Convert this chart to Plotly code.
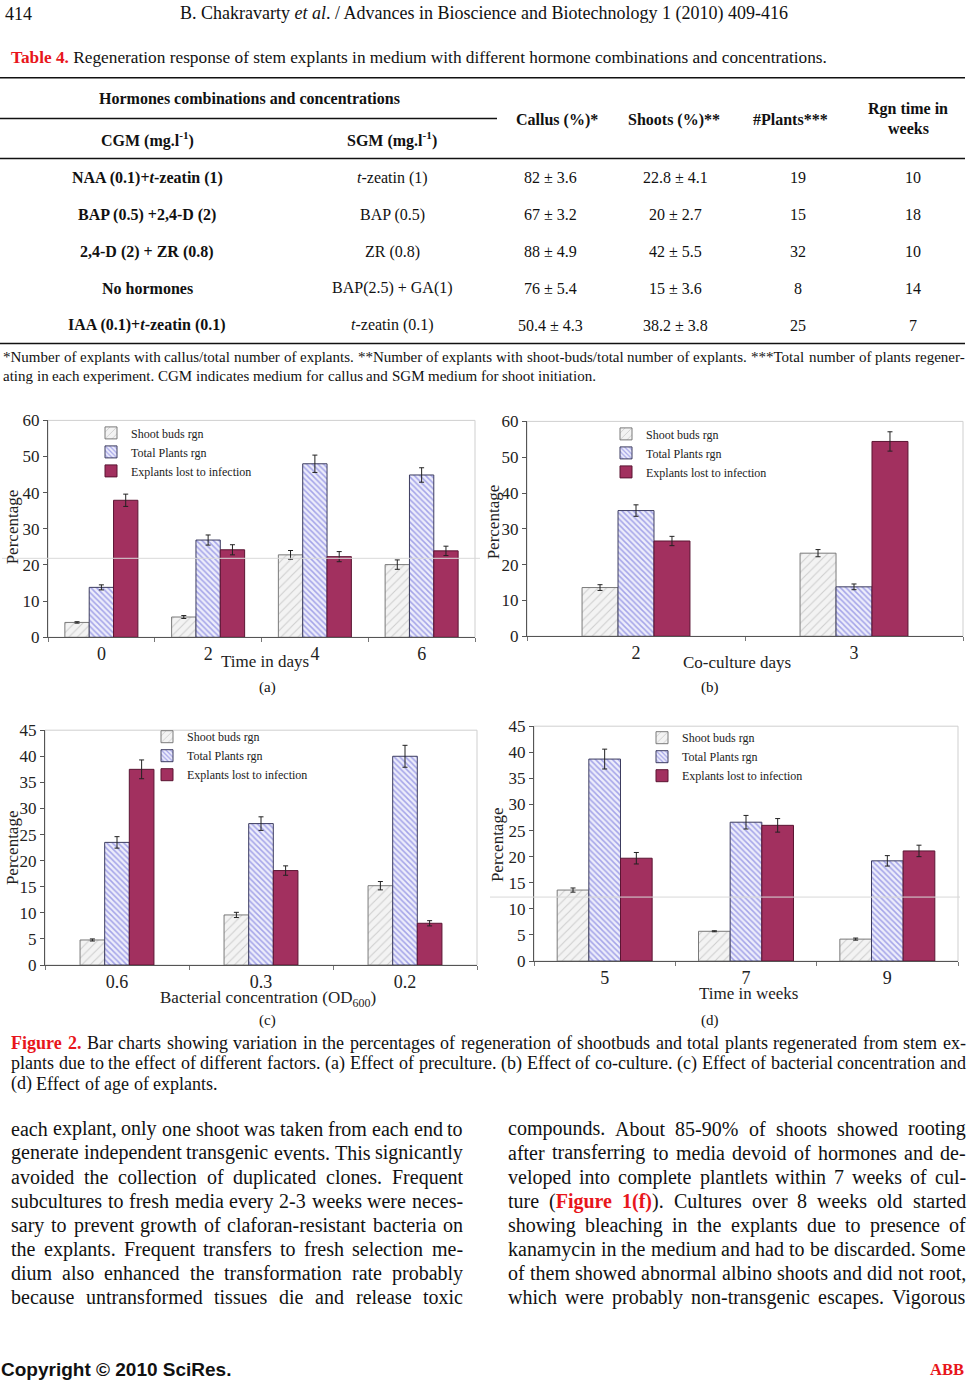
import re
import plotly.graph_objects as go

W, H = 968, 1386
SERIF = "Liberation Serif"
SANS = "Liberation Sans"
RED = "#e8161b"

# ---------------- data ----------------
series_names = ["Shoot buds rgn", "Total Plants rgn", "Explants lost to infection"]

categories_a = ["0", "2", "4", "6"]
shoot_a = [4.1, 5.6, 22.8, 20.1]
shoot_a_err = [0.2, 0.4, 1.2, 1.3]
total_a = [13.8, 26.9, 48.0, 44.9]
total_a_err = [0.7, 1.4, 2.4, 2.0]
infect_a = [37.9, 24.2, 22.3, 23.9]
infect_a_err = [1.7, 1.4, 1.4, 1.3]

categories_b = ["2", "3"]
shoot_b = [13.6, 23.2]
shoot_b_err = [0.8, 1.0]
total_b = [35.1, 13.8]
total_b_err = [1.6, 0.8]
infect_b = [26.6, 54.4]
infect_b_err = [1.3, 2.7]

categories_c = ["0.6", "0.3", "0.2"]
shoot_c = [4.8, 9.6, 15.2]
shoot_c_err = [0.2, 0.5, 0.8]
total_c = [23.5, 27.1, 40.0]
total_c_err = [1.1, 1.3, 2.1]
infect_c = [37.5, 18.1, 8.0]
infect_c_err = [1.8, 0.9, 0.5]

categories_d = ["5", "7", "9"]
shoot_d = [13.6, 5.7, 4.2]
shoot_d_err = [0.4, 0.1, 0.2]
total_d = [38.7, 26.6, 19.2]
total_d_err = [1.9, 1.3, 1.0]
infect_d = [19.7, 26.0, 21.1]
infect_d_err = [1.1, 1.3, 1.1]

y_max = [60, 60, 45, 45]
y_dtick = [10, 10, 5, 5]
x_titles = ["Time in days", "Co-culture days",
            "Bacterial concentration (OD<sub>600</sub>)", "Time in weeks"]
panel_labels = ["(a)", "(b)", "(c)", "(d)"]

# table data
tbl_cgm = ["NAA (0.1)+<i>t</i>-zeatin (1)", "BAP (0.5) +2,4-D (2)", "2,4-D (2) + ZR (0.8)",
           "No hormones", "IAA (0.1)+<i>t</i>-zeatin (0.1)"]
tbl_sgm = ["<i>t</i>-zeatin (1)", "BAP (0.5)", "ZR (0.8)", "BAP(2.5) + GA(1)", "<i>t</i>-zeatin (0.1)"]
tbl_callus = ["82 ± 3.6", "67 ± 3.2", "88 ± 4.9", "76 ± 5.4", "50.4 ± 4.3"]
tbl_shoots = ["22.8 ± 4.1", "20 ± 2.7", "42 ± 5.5", "15 ± 3.6", "38.2 ± 3.8"]
tbl_plants = ["19", "15", "32", "8", "25"]
tbl_rgn = ["10", "18", "10", "14", "7"]

# {...} marks red bold words
footnote_lines = [
    "*Number of explants with callus/total number of explants. **Number of explants with shoot-buds/total "
    "number of explants. ***Total number of plants regener-",
    "ating in each experiment. CGM indicates medium for callus and SGM medium for shoot initiation.",
]
caption_lines = [
    "{Figure} {2.} Bar charts showing variation in the percentages of regeneration of shootbuds and total "
    "plants regenerated from stem ex-",
    "plants due to the effect of different factors. (a) Effect of preculture. (b) Effect of co-culture. "
    "(c) Effect of bacterial concentration and",
    "(d) Effect of age of explants.",
]
body_left = [
    "each explant, only one shoot was taken from each end to",
    "generate independent transgenic events. This signicantly",
    "avoided the collection of duplicated clones. Frequent",
    "subcultures to fresh media every 2-3 weeks were neces-",
    "sary to prevent growth of claforan-resistant bacteria on",
    "the explants. Frequent transfers to fresh selection me-",
    "dium also enhanced the transformation rate probably",
    "because untransformed tissues die and release toxic",
]
body_right = [
    "compounds. About 85-90% of shoots showed rooting",
    "after transferring to media devoid of hormones and de-",
    "veloped into complete plantlets within 7 weeks of cul-",
    "ture ({Figure} {1(f)}). Cultures over 8 weeks old started",
    "showing bleaching in the explants due to presence of",
    "kanamycin in the medium and had to be discarded. Some",
    "of them showed abnormal albino shoots and did not root,",
    "which were probably non-transgenic escapes. Vigorous",
]

# ---------------- font metrics (Times-compatible) ----------------
REG = dict(zip(" !\"#$%&'()*+,-./0123456789:;<=>?@",
               [250, 333, 408, 500, 500, 833, 778, 333, 333, 333, 500, 564, 250, 333, 250, 278]
               + [500] * 10 + [278, 278, 564, 564, 564, 444, 921]))
REG.update(dict(zip("ABCDEFGHIJKLMNOPQRSTUVWXYZ",
                    [722, 667, 667, 722, 611, 556, 722, 722, 333, 389, 722, 611, 889, 722, 722, 556,
                     722, 667, 556, 611, 722, 722, 944, 722, 722, 611])))
REG.update(dict(zip("abcdefghijklmnopqrstuvwxyz",
                    [444, 500, 444, 500, 444, 333, 500, 500, 278, 278, 500, 278, 778, 500, 500, 500,
                     500, 333, 389, 278, 500, 500, 722, 500, 500, 444])))
BOLD = dict(zip("abcdefghijklmnopqrstuvwxyz",
                [500, 556, 444, 556, 444, 333, 500, 556, 278, 333, 556, 278, 833, 556, 500, 556,
                 556, 444, 389, 333, 556, 500, 722, 500, 500, 444]))
BOLD.update(dict(zip("FT ().0123456789", [611, 667, 250, 333, 333, 250] + [500] * 10)))


def markup(word):
    return re.sub(r"\{([^}]*)\}", r"<span style='color:#e8161b'><b>\1</b></span>", word)


def text_width(s, size):
    total, bold = 0, False
    for part in re.split(r"(<[^>]+>)", s):
        if part.startswith("<"):
            if part.lower() == "<b>":
                bold = True
            elif part.lower() == "</b>":
                bold = False
            continue
        for c in part:
            total += (BOLD.get(c, REG.get(c, 500) * 1.04) if bold else REG.get(c, 500))
    return total / 1000.0 * size


# ---------------- helpers ----------------
# page layout coordinates (pixels from top-left); slight vertical stretch about the middle
def px(x):
    return x / W


def py(y):
    yy = 638 + (y - 638) * 1.0132
    return 1 - yy / H


annotations = []
shapes = []


def text(t, x, y, size, anchor="left", family=SERIF, color="#111", angle=0):
    annotations.append(dict(text=t, x=px(x), y=py(y), xref="paper", yref="paper",
                            xanchor=anchor, yanchor="middle", showarrow=False, borderpad=0,
                            textangle=angle, font=dict(family=family, size=size, color=color)))


def justified(line, x0, x1, y, size, justify=True):
    words = [markup(w) for w in line.split(" ")]
    widths = [text_width(w, size) for w in words]
    if justify:
        gap = (x1 - x0 - sum(widths)) / max(len(words) - 1, 1)
        gap = max(gap, 0.2 * size)
    else:
        gap = 0.25 * size
    x = x0
    for w, wd in zip(words, widths):
        text(w, x, y, size)
        x += wd + gap


def hline(y, x0, x1, width=1.3, color="#111"):
    shapes.append(dict(type="line", xref="paper", yref="paper", x0=px(x0), x1=px(x1),
                       y0=py(y), y1=py(y), line=dict(color=color, width=width)))


# ---------------- figure ----------------
fig = go.Figure()

panels = [
    dict(cats=categories_a, data=[(shoot_a, shoot_a_err), (total_a, total_a_err), (infect_a, infect_a_err)],
         dom_x=(48, 475), dom_y=(420, 637), width=0.228,
         legend=(91, 418), ytitle=(12, 527), xtitle=(265, 661), label=(267, 687)),
    dict(cats=categories_b, data=[(shoot_b, shoot_b_err), (total_b, total_b_err), (infect_b, infect_b_err)],
         dom_x=(527, 963), dom_y=(421, 636), width=0.165,
         legend=(606, 419), ytitle=(493, 522), xtitle=(737, 662), label=(710, 687)),
    dict(cats=categories_c, data=[(shoot_c, shoot_c_err), (total_c, total_c_err), (infect_c, infect_c_err)],
         dom_x=(45, 477), dom_y=(730, 965), width=0.171,
         legend=(147, 722), ytitle=(12, 848), xtitle=(268, 999), label=(267, 1021)),
    dict(cats=categories_d, data=[(shoot_d, shoot_d_err), (total_d, total_d_err), (infect_d, infect_d_err)],
         dom_x=(534, 958), dom_y=(726, 961), width=0.224,
         legend=(642, 723), ytitle=(497, 845), xtitle=(749, 993), label=(710, 1021)),
]

styles = [
    dict(color="#f3f3f3", line="#7a7a7a",
         pattern=dict(shape="/", fgcolor="#a8a8a8", size=6, solidity=0.18)),
    dict(color="#ededfb", line="#3c3c60",
         pattern=dict(shape="\\", fgcolor="#5c5cd6", size=4, solidity=0.38)),
    dict(color="#a2305f", line="#5b1533", pattern=None),
]

for i, p in enumerate(panels):
    n = "" if i == 0 else str(i + 1)
    xa, ya = "x" + n, "y" + n
    leg = "legend" + n
    w = p["width"]
    for j, ((vals, errs), st) in enumerate(zip(p["data"], styles)):
        marker = dict(color=st["color"], line=dict(color=st["line"], width=1))
        if st["pattern"]:
            marker["pattern"] = st["pattern"]
        fig.add_trace(go.Bar(
            x=p["cats"], y=vals, name=series_names[j], xaxis=xa, yaxis=ya, legend=leg,
            width=w, offset=(j - 1.5) * w, marker=marker,
            error_y=dict(type="data", array=errs, visible=True, color="#222", thickness=1, width=2.5),
            showlegend=True,
        ))
    x0, x1 = p["dom_x"]
    y0, y1 = p["dom_y"]
    fig.update_layout(**{
        "xaxis" + n: dict(domain=[px(x0), px(x1)], anchor=ya, type="category",
                          showline=True, linecolor="#555", linewidth=1, ticks="outside",
                          tickson="boundaries", ticklen=4, tickcolor="#777",
                          tickfont=dict(family=SERIF, size=18, color="#222"),
                          showgrid=False, zeroline=False, fixedrange=True),
        "yaxis" + n: dict(domain=[py(y1), py(y0)], anchor=xa, range=[0, y_max[i]],
                          dtick=y_dtick[i], showline=True, linecolor="#555", linewidth=1,
                          ticks="outside", ticklen=4, tickcolor="#555",
                          tickfont=dict(family=SERIF, size=17, color="#222"),
                          showgrid=False, zeroline=False, fixedrange=True),
        leg: dict(x=px(p["legend"][0]), y=py(p["legend"][1]), xanchor="left", yanchor="top",
                  bgcolor="rgba(0,0,0,0)", font=dict(family=SERIF, size=12, color="#222"),
                  itemwidth=30, tracegroupgap=0),
    })
    shapes.append(dict(type="rect", xref="paper", yref="paper", x0=px(x0), x1=px(x1),
                       y0=py(y1), y1=py(y0), line=dict(color="#cfcfcf", width=1), layer="below"))
    text("Percentage", p["ytitle"][0], p["ytitle"][1], 17, anchor="center", angle=-90, color="#222")
    text(x_titles[i], p["xtitle"][0], p["xtitle"][1], 17, anchor="center", color="#222")
    text(panel_labels[i], p["label"][0], p["label"][1], 15, anchor="center")

# scan artefact lines in panels (a) and (d)
hline(558, 2, 480, width=1, color="#d9d9d9")
hline(897, 490, 960, width=1, color="#d9d9d9")

# ---------------- page text ----------------
text("414", 4, 13, 18)
text("B. Chakravarty <i>et al</i>. / Advances in Bioscience and Biotechnology 1 (2010) 409-416", 484, 13, 18,
     anchor="center")
text("<span style='color:%s'><b>Table 4.</b></span> Regeneration response of stem explants in medium with "
     "different hormone combinations and concentrations." % RED, 10, 57, 17.3)

# table rules
hline(77, 0, 965, width=1.5)
hline(118, 0, 497, width=1.5)
hline(158, 0, 965, width=1.5)
hline(343, 0, 965, width=1.5)

TS = 16
col_x = [147, 392, 550, 675, 798, 913]
text("<b>Hormones combinations and concentrations</b>", 249, 98, TS, anchor="center")
text("<b>CGM (mg.l<sup>-1</sup>)</b>", col_x[0], 139, TS, anchor="center")
text("<b>SGM (mg.l<sup>-1</sup>)</b>", col_x[1], 139, TS, anchor="center")
text("<b>Callus (%)*</b>", 557, 119, TS, anchor="center")
text("<b>Shoots (%)**</b>", 674, 119, TS, anchor="center")
text("<b>#Plants***</b>", 790, 119, TS, anchor="center")
text("<b>Rgn time in</b>", 908, 108, TS, anchor="center")
text("<b>weeks</b>", 908, 128, TS, anchor="center")

row_y = [177, 214, 251, 288, 325]
for r in range(len(tbl_cgm)):
    y = row_y[r]
    text("<b>" + tbl_cgm[r] + "</b>", col_x[0], y, TS, anchor="center")
    text(tbl_sgm[r], col_x[1], y, TS, anchor="center")
    text(tbl_callus[r], col_x[2], y, TS, anchor="center")
    text(tbl_shoots[r], col_x[3], y, TS, anchor="center")
    text(tbl_plants[r], col_x[4], y, TS, anchor="center")
    text(tbl_rgn[r], col_x[5], y, TS, anchor="center")

for k, line in enumerate(footnote_lines):
    justified(line, 2, 964, 357 + k * 19, 15, justify=(k < len(footnote_lines) - 1))

for k, line in enumerate(caption_lines):
    justified(line, 10, 965, 1043 + k * 20.5, 18, justify=(k < len(caption_lines) - 1))

for k, line in enumerate(body_left):
    justified(line, 10, 462, 1129 + k * 24.1, 20)
for k, line in enumerate(body_right):
    justified(line, 507, 965, 1129 + k * 24.1, 20)

text("<b>Copyright © 2010 SciRes.</b>", 0, 1370, 19, family=SANS)
text("<b>ABB</b>", 965, 1370, 16.5, anchor="right", color=RED)

fig.update_layout(
    width=W, height=H, margin=dict(l=0, r=0, t=0, b=0),
    paper_bgcolor="white", plot_bgcolor="white",
    barmode="overlay", showlegend=True,
    annotations=annotations, shapes=shapes,
    font=dict(family=SERIF),
)

fig.write_html(
    "out.html",
    config={"displayModeBar": False},
    post_script=(
        "document.documentElement.style.margin='0';document.body.style.margin='0';"
        "document.documentElement.style.overflow='hidden';"
        "var gd=document.getElementById('{plot_id}');"
        "gd.style.position='fixed';gd.style.left='0px';gd.style.top='0px';"
    ),
)
